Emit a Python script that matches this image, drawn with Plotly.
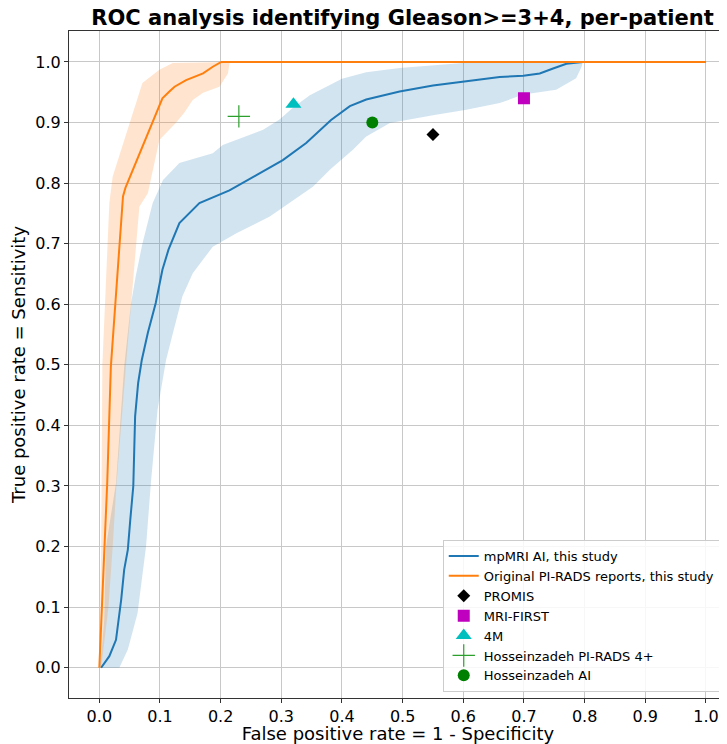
import plotly.graph_objects as go

# mpMRI AI ROC curve
ai_fpr = [0.003, 0.0165, 0.0275, 0.033, 0.036, 0.041, 0.047, 0.051, 0.056, 0.059, 0.064, 0.070, 0.080, 0.093,
          0.104, 0.114, 0.132, 0.165, 0.2145, 0.259, 0.3025, 0.341, 0.382, 0.413, 0.44, 0.495, 0.55,
          0.605, 0.66, 0.699, 0.726, 0.748, 0.770, 0.797, 0.9, 1.0]
ai_tpr = [0.0, 0.019, 0.046, 0.085, 0.112, 0.162, 0.195, 0.244, 0.30, 0.415, 0.47, 0.508, 0.553, 0.602,
          0.657, 0.69, 0.734, 0.767, 0.788, 0.813, 0.838, 0.866, 0.904, 0.927, 0.938, 0.951, 0.961,
          0.968, 0.975, 0.977, 0.981, 0.989, 0.997, 1.0, 1.0, 1.0]
# mpMRI AI confidence band: upper (left) edge
ai_up_fpr = [0.0, 0.004, 0.008, 0.011, 0.0275, 0.041, 0.052, 0.06, 0.071, 0.088, 0.105, 0.132, 0.187, 0.2035,
             0.27, 0.297, 0.32, 0.347, 0.40, 0.44, 0.495, 0.56, 0.62, 0.797]
ai_up_tpr = [0.0, 0.03, 0.079, 0.2, 0.305, 0.497, 0.60, 0.646, 0.70, 0.767, 0.805, 0.833, 0.849, 0.863,
             0.888, 0.905, 0.925, 0.945, 0.972, 0.983, 0.990, 0.995, 1.0, 1.0]
# mpMRI AI confidence band: lower (right) edge
ai_lo_fpr = [0.033, 0.047, 0.063, 0.077, 0.085, 0.096, 0.11, 0.124, 0.137, 0.154, 0.187, 0.226, 0.281, 0.314,
             0.352, 0.38, 0.418, 0.44, 0.479, 0.55, 0.605, 0.66, 0.699, 0.753, 0.786, 0.795, 0.797]
ai_lo_tpr = [0.0, 0.03, 0.09, 0.2, 0.305, 0.426, 0.508, 0.563, 0.613, 0.651, 0.695, 0.717, 0.745, 0.767,
             0.794, 0.822, 0.855, 0.877, 0.899, 0.912, 0.921, 0.932, 0.946, 0.954, 0.973, 0.992, 1.0]

# Original PI-RADS ROC curve
pr_fpr = [0.0, 0.013, 0.019, 0.025, 0.026, 0.029, 0.032, 0.035, 0.039, 0.043, 0.099, 0.104, 0.1155, 0.124,
          0.143, 0.171, 0.187, 0.201, 0.5, 1.0]
pr_tpr = [0.0, 0.305, 0.497, 0.58, 0.60, 0.635, 0.69, 0.723, 0.778, 0.792, 0.927, 0.94, 0.951, 0.959,
          0.970, 0.981, 0.992, 1.0, 1.0, 1.0]
pr_up_fpr = [0.0, 0.003, 0.005, 0.011, 0.0165, 0.022, 0.071, 0.099, 0.121, 0.215]
pr_up_tpr = [0.0, 0.2, 0.5, 0.646, 0.767, 0.811, 0.965, 0.987, 0.998, 1.0]
pr_lo_fpr = [0.003, 0.015, 0.022, 0.028, 0.036, 0.044, 0.052, 0.06, 0.066, 0.080, 0.099, 0.126, 0.14, 0.154,
             0.171, 0.198, 0.212, 0.215]
pr_lo_tpr = [0.0, 0.1, 0.2, 0.3, 0.4, 0.5, 0.6, 0.69, 0.761, 0.783, 0.871, 0.899, 0.916, 0.937,
             0.949, 0.959, 0.981, 1.0]

# Literature operating points
studies = ["PROMIS", "MRI-FIRST", "4M", "Hosseinzadeh PI-RADS 4+", "Hosseinzadeh AI"]
study_fpr = [0.55, 0.70, 0.32, 0.23, 0.45]
study_tpr = [0.88, 0.94, 0.93, 0.91, 0.90]
study_symbols = ["diamond", "square", "triangle-up", "cross-thin", "circle"]
study_colors = ["black", "#bf00bf", "#00bfbf", "#2ca02c", "#008000"]
study_sizes = [10, 12, 14, 16, 12]

xticks = [round(i * 0.1, 1) for i in range(11)]
yticks = xticks

fig = go.Figure()

def band(xu, yu, xl, yl, color):
    fig.add_trace(go.Scatter(x=list(xu) + list(xl)[::-1], y=list(yu) + list(yl)[::-1],
                             fill="toself", fillcolor=color, line=dict(width=0),
                             mode="lines", hoverinfo="skip", showlegend=False))

band(ai_up_fpr, ai_up_tpr, ai_lo_fpr, ai_lo_tpr, "rgba(31,119,180,0.2)")
band(pr_up_fpr, pr_up_tpr, pr_lo_fpr, pr_lo_tpr, "rgba(255,127,14,0.2)")

fig.add_trace(go.Scatter(x=ai_fpr, y=ai_tpr, mode="lines", line=dict(color="#1f77b4", width=2),
                         name="mpMRI AI, this study"))
fig.add_trace(go.Scatter(x=pr_fpr, y=pr_tpr, mode="lines", line=dict(color="#ff7f0e", width=2),
                         name="Original PI-RADS reports, this study"))

for name, fx, ty, sym, col, sz in zip(studies, study_fpr, study_tpr, study_symbols, study_colors, study_sizes):
    marker = dict(symbol=sym, color=col, size=sz)
    if sym == "cross-thin":
        marker["line"] = dict(color=col, width=1.2)
    fig.add_trace(go.Scatter(x=[fx], y=[ty], mode="markers", marker=marker, name=name))

axis_common = dict(showgrid=True, gridcolor="#c8c8c8", gridwidth=1, zeroline=False,
                   showline=True, linecolor="#333333", linewidth=1, mirror=True,
                   ticks="outside", ticklen=4, tickcolor="#333333",
                   tickfont=dict(family="DejaVu Sans", size=16, color="black"))

# the page body has an 8px margin, so the figure is sized to fit the 727x744 window
fig.update_layout(
    width=719, height=736,
    margin=dict(l=61, r=0, t=23, b=46),
    paper_bgcolor="white", plot_bgcolor="white",
    title=dict(text="<b>ROC analysis identifying Gleason>=3+4, per-patient</b>",
               x=394.5 / 719, xanchor="center", xref="container", y=1 - 9.5 / 736, yanchor="middle",
               yref="container",
               font=dict(family="DejaVu Sans", size=21, color="black")),
    xaxis=dict(range=[-0.05, 1.0347], tickvals=xticks, ticktext=[f"{v:.1f}" for v in xticks],
               title=dict(text="False positive rate = 1 - Specificity", standoff=4,
                          font=dict(family="DejaVu Sans", size=18, color="black")), **axis_common),
    yaxis=dict(range=[-0.05, 1.051], tickvals=yticks, ticktext=[f"{v:.1f}" for v in yticks],
               title=dict(text="True positive rate = Sensitivity", standoff=8,
                          font=dict(family="DejaVu Sans", size=18, color="black")), **axis_common),
    legend=dict(x=0.568, y=0.009, xanchor="left", yanchor="bottom",
                bgcolor="rgba(255,255,255,0.85)", bordercolor="#cccccc", borderwidth=1,
                font=dict(family="DejaVu Sans", size=13, color="black"), tracegroupgap=0,
                itemwidth=30),
)

fig.write_html("out.html")
